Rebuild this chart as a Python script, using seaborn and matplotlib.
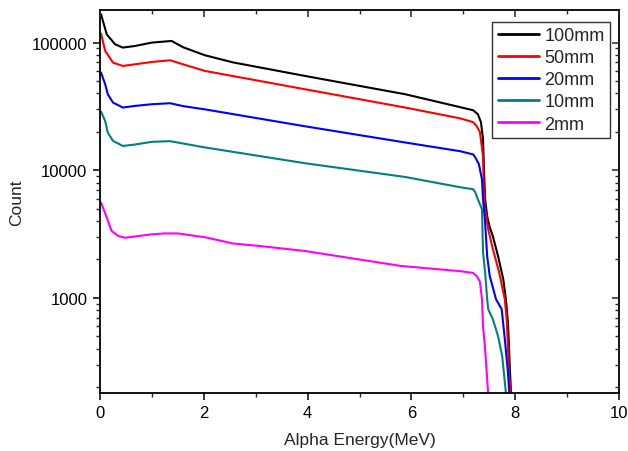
import matplotlib
matplotlib.use("Agg")
import matplotlib.pyplot as plt
import matplotlib.ticker as mticker
import numpy as np
import pandas as pd
import seaborn as sns

# ---- data ----
e_100 = [0.02, 0.13, 0.29, 0.44, 0.67, 1.0, 1.38, 1.6, 2.02, 2.56, 3.95, 5.88, 6.94, 7.19, 7.28,
         7.34, 7.38, 7.40, 7.42, 7.46, 7.51, 7.57, 7.67, 7.77, 7.82, 7.86, 7.90, 7.93]
c_100 = [166500, 116000, 97000, 91400, 94000, 100000, 103000, 92000, 79600, 70000, 54800, 39400,
         31200, 29500, 27500, 23800, 17500, 9640, 5930, 4360, 3580, 3040, 2120, 1400, 977, 645, 262, 150]

e_50 = [0.02, 0.10, 0.25, 0.44, 0.67, 1.0, 1.35, 1.6, 2.02, 3.95, 5.88, 6.94, 7.19, 7.26, 7.32,
        7.38, 7.40, 7.42, 7.48, 7.57, 7.69, 7.80, 7.84, 7.88, 7.93]
c_50 = [117600, 86000, 69700, 65600, 67600, 70500, 72700, 67600, 60000, 43100, 31000, 25500,
        23800, 22100, 19900, 12900, 5930, 4950, 3450, 2410, 1590, 977, 645, 262, 150]

e_20 = [0.02, 0.10, 0.15, 0.25, 0.44, 0.67, 1.0, 1.35, 1.6, 2.02, 3.95, 5.88, 6.94, 7.19, 7.23,
        7.30, 7.36, 7.38, 7.42, 7.46, 7.51, 7.63, 7.74, 7.80, 7.86, 7.90]
c_20 = [58200, 47100, 39400, 33900, 31000, 31900, 32900, 33500, 31800, 30000, 22100, 16500,
        14100, 13300, 12650, 11150, 8500, 5930, 3920, 2120, 1480, 977, 816, 475, 262, 150]

e_10 = [0.02, 0.10, 0.15, 0.25, 0.44, 0.67, 1.0, 1.35, 1.6, 2.02, 3.95, 5.88, 6.94, 7.19, 7.23,
        7.28, 7.36, 7.38, 7.42, 7.46, 7.48, 7.57, 7.67, 7.75, 7.80, 7.84]
c_10 = [28800, 24300, 19700, 17000, 15500, 15900, 16700, 16900, 16200, 15100, 11350, 8860,
        7360, 7100, 6730, 5930, 4950, 2280, 1590, 977, 816, 681, 501, 349, 219, 150]

e_2 = [0.02, 0.13, 0.22, 0.35, 0.48, 1.0, 1.25, 1.5, 2.02, 2.56, 3.08, 3.95, 5.8, 6.94, 7.19,
       7.26, 7.32, 7.36, 7.38, 7.42, 7.46, 7.49]
c_2 = [5590, 4260, 3360, 3060, 2960, 3150, 3200, 3200, 2990, 2670, 2550, 2330, 1780, 1620, 1570,
       1480, 1340, 977, 600, 400, 231, 150]

labels = ["100mm", "50mm", "20mm", "10mm", "2mm"]
colors = ["#000000", "#ff0000", "#0000ff", "#008080", "#ff00ff"]
series_e = [e_100, e_50, e_20, e_10, e_2]
series_c = [c_100, c_50, c_20, c_10, c_2]

x_ticks = [0, 2, 4, 6, 8, 10]
y_ticks = [1000, 10000, 100000]

frames = []
for lab, e, c in zip(labels, series_e, series_c):
    frames.append(pd.DataFrame({"Energy": e, "Count": c, "Thickness": lab}))
df = pd.concat(frames, ignore_index=True)

sns.set_theme(style="ticks")
plt.rcParams["font.family"] = ["Liberation Sans", "DejaVu Sans"]

fig = plt.figure(figsize=(6.28, 4.52), dpi=100)
ax = fig.add_axes([100 / 628, 58 / 452, 519 / 628, 383 / 452])

sns.lineplot(data=df, x="Energy", y="Count", hue="Thickness", hue_order=labels,
             palette=dict(zip(labels, colors)), estimator=None, sort=False,
             linewidth=1.5, ax=ax)

ax.set_yscale("log")
ax.set_xlim(0, 10)
ax.set_ylim(180, 180000)

ax.set_xticks(x_ticks)
ax.set_xticklabels([str(t) for t in x_ticks])
ax.xaxis.set_minor_locator(mticker.MultipleLocator(1))
ax.yaxis.set_major_locator(mticker.FixedLocator(y_ticks))
ax.yaxis.set_major_formatter(mticker.FixedFormatter([str(t) for t in y_ticks]))
ax.yaxis.set_minor_locator(mticker.LogLocator(base=10, subs=np.arange(2, 10)))
ax.yaxis.set_minor_formatter(mticker.NullFormatter())

ax.tick_params(axis="both", which="major", direction="out", length=5, width=1.1,
               labelsize=12, colors="black", pad=4)
ax.tick_params(axis="both", which="minor", direction="out", length=3, width=1.0)

ax.set_xlabel("Alpha Energy(MeV)", fontsize=12.5, labelpad=8)
ax.set_ylabel("Count", fontsize=12.5, labelpad=6)

for sp in ax.spines.values():
    sp.set_visible(True)
    sp.set_color("black")
    sp.set_linewidth(1.3)

# mirrored inward ticks on top and right
axt = ax.twiny()
axt.set_xlim(ax.get_xlim())
axt.set_xticks(x_ticks)
axt.xaxis.set_minor_locator(mticker.MultipleLocator(1))
axt.tick_params(axis="x", which="major", direction="in", length=5, width=1.1, labeltop=False)
axt.tick_params(axis="x", which="minor", direction="in", length=3, width=1.0)
axr = ax.twinx()
axr.set_yscale("log")
axr.set_ylim(ax.get_ylim())
axr.yaxis.set_major_locator(mticker.FixedLocator(y_ticks))
axr.yaxis.set_minor_locator(mticker.LogLocator(base=10, subs=np.arange(2, 10)))
axr.yaxis.set_minor_formatter(mticker.NullFormatter())
axr.tick_params(axis="y", which="major", direction="in", length=5, width=1.1, labelright=False)
axr.tick_params(axis="y", which="minor", direction="in", length=3, width=1.0)
for a in (axt, axr):
    for sp in a.spines.values():
        sp.set_visible(False)

leg = ax.legend(loc="upper right", bbox_to_anchor=(0.983, 0.969), frameon=True,
                fontsize=13, handlelength=2.3, labelspacing=0.28, borderpad=0.3,
                handletextpad=0.3, fancybox=False, borderaxespad=0)
leg.get_frame().set_edgecolor("black")
leg.get_frame().set_linewidth(1.0)
for line in leg.get_lines():
    line.set_linewidth(2.0)

fig.savefig("out.png", dpi=100)
